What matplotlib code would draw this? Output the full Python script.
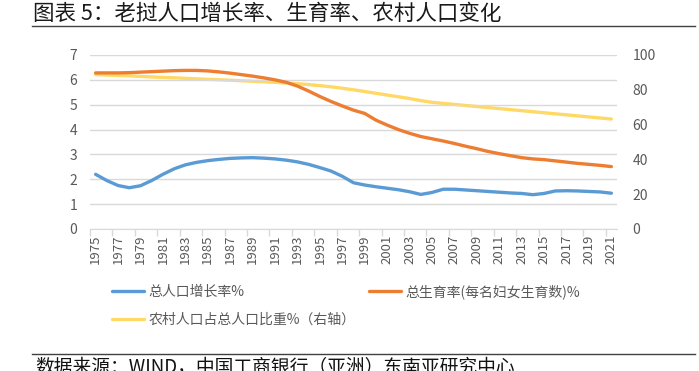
import numpy as np
import matplotlib
matplotlib.use("Agg")
import matplotlib.pyplot as plt
from matplotlib.lines import Line2D

plt.rcParams['font.family'] = ['Noto Sans CJK SC', 'DejaVu Sans']

# 数据
years = list(range(1975, 2022))
pop_growth = [2.20, 1.95, 1.75, 1.66, 1.74, 1.95, 2.20, 2.42, 2.58, 2.68,
              2.75, 2.80, 2.84, 2.86, 2.87, 2.85, 2.82, 2.77, 2.70, 2.60,
              2.47, 2.33, 2.12, 1.86, 1.77, 1.70, 1.64, 1.58, 1.50, 1.39,
              1.47, 1.60, 1.60, 1.57, 1.54, 1.51, 1.48, 1.45, 1.43, 1.38,
              1.43, 1.53, 1.54, 1.53, 1.51, 1.49, 1.44]
fertility = [6.28, 6.28, 6.28, 6.29, 6.31, 6.33, 6.35, 6.37, 6.38, 6.38,
             6.36, 6.32, 6.27, 6.21, 6.15, 6.08, 6.00, 5.90, 5.75, 5.55,
             5.33, 5.13, 4.95, 4.78, 4.65, 4.38, 4.18, 4.00, 3.85, 3.72,
             3.63, 3.54, 3.44, 3.33, 3.23, 3.12, 3.03, 2.95, 2.87, 2.82,
             2.79, 2.74, 2.69, 2.64, 2.60, 2.56, 2.51]
rural_share = [88.8, 88.5, 88.2, 88.0, 87.7, 87.4, 87.1, 86.9, 86.6, 86.3,
               86.0, 85.8, 85.5, 85.2, 84.9, 84.6, 84.3, 83.9, 83.5, 83.0,
               82.4, 81.7, 80.9, 80.0, 79.0, 78.0, 77.0, 76.0, 75.0, 73.8,
               72.8, 72.2, 71.6, 71.0, 70.4, 69.8, 69.2, 68.6, 68.0, 67.4,
               66.8, 66.2, 65.6, 65.0, 64.4, 63.8, 63.2]

label_growth = '总人口增长率%'
label_fert = '总生育率(每名妇女生育数)%'
label_rural = '农村人口占总人口比重%（右轴）'
title = '图表 5：老挝人口增长率、生育率、农村人口变化'
source = '数据来源：WIND，中国工商银行（亚洲）东南亚研究中心'

blue = '#5B9BD5'
orange = '#ED7D31'
yellow = '#FFD966'
grey_txt = '#595959'
grid_c = '#D9D9D9'

W, H = 699, 371
fig = plt.figure(figsize=(W / 100, H / 100), dpi=100)
ax = fig.add_axes([90 / W, 1 - 229 / H, (617 - 90) / W, (229 - 55) / H])
ax2 = ax.twinx()

l1, = ax.plot(years, pop_growth, color=blue, lw=2.4, solid_capstyle='round')
l2, = ax.plot(years, fertility, color=orange, lw=2.4, solid_capstyle='round')
l3, = ax2.plot(years, rural_share, color=yellow, lw=2.4, solid_capstyle='round')
ax.set_zorder(ax2.get_zorder() + 1)
ax.patch.set_visible(False)

ax.set_xlim(1974.5, 2021.5)
ax.set_ylim(0, 7)
ax2.set_ylim(0, 100)
ax.set_yticks(range(0, 8))
ax2.set_yticks(range(0, 101, 20))
ax.grid(axis='y', color=grid_c, lw=1)
ax.set_axisbelow(True)

ax.set_xticks(np.arange(1974.5, 2021.6, 2))
ax.set_xticklabels([])
ax.set_xticks(years[::2], minor=True)
ax.set_xticklabels([str(y) for y in years[::2]], minor=True, rotation=90)
ax.tick_params(axis='x', which='major', length=5, color=grid_c, width=1)
ax.tick_params(axis='x', which='minor', length=0, pad=4, labelsize=9.5, labelcolor=grey_txt)
ax.tick_params(axis='y', length=0, pad=9, labelsize=10, labelcolor=grey_txt)
ax2.tick_params(axis='y', length=0, pad=11, labelsize=10, labelcolor=grey_txt)

for a in (ax, ax2):
    for s in ('top', 'left', 'right'):
        a.spines[s].set_visible(False)
    a.spines['bottom'].set_color(grid_c)
ax2.spines['bottom'].set_visible(False)

leg = ax.legend([l1, l3, l2], [label_growth, label_rural, label_fert],
                ncol=2, loc='upper left', bbox_to_anchor=(112 / W, 1 - 284 / H),
                bbox_transform=fig.transFigure, frameon=False, fontsize=10,
                handlelength=2.3, handletextpad=0.3, labelspacing=1.0,
                columnspacing=1.0, borderaxespad=0, borderpad=0)
for t in leg.get_texts():
    t.set_color(grey_txt)

fig.text(33 / W, 1 - 20 / H, title, fontsize=15.5, color='#1a1a1a', va='baseline')
fig.add_artist(Line2D([32 / W, 695 / W], [1 - 26 / H, 1 - 26 / H], color='#404040', lw=1))
fig.add_artist(Line2D([32 / W, 695 / W], [1 - 354 / H, 1 - 354 / H], color='#404040', lw=1))
fig.text(35 / W, 1 - 357 / H, source, fontsize=13.5, color='#111111', va='top',
         style='italic')

fig.savefig('out.png', dpi=100)
